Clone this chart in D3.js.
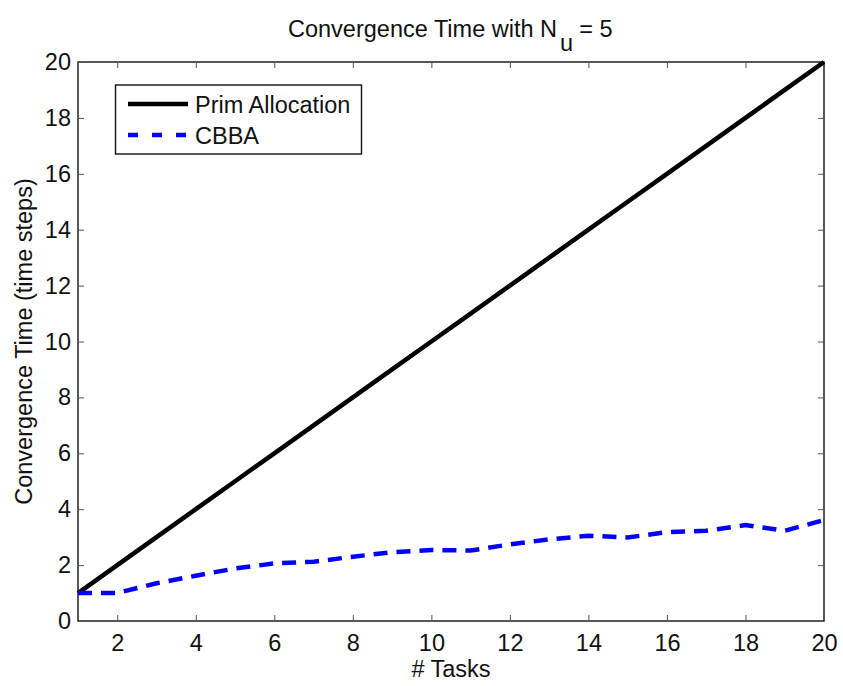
<!DOCTYPE html>
<html>
<head>
<meta charset="utf-8">
<script src="https://cdn.jsdelivr.net/npm/d3@7"></script>
<style>
  html, body { margin: 0; padding: 0; background: #fff; }
  svg text { font-family: "Liberation Sans", Arial, Helvetica, sans-serif; fill: #111; }
</style>
</head>
<body>
<svg id="chart" width="843" height="686"></svg>
<script>
// Number of tasks on the x axis
const tasks = [1, 2, 3, 4, 5, 6, 7, 8, 9, 10, 11, 12, 13, 14, 15, 16, 17, 18, 19, 20];
// Prim allocation: convergence grows one step per task
const primTime = [1, 2, 3, 4, 5, 6, 7, 8, 9, 10, 11, 12, 13, 14, 15, 16, 17, 18, 19, 20];
// CBBA convergence time (time steps)
const cbbaTime = [1.0, 1.0, 1.35, 1.62, 1.88, 2.06, 2.12, 2.30, 2.46, 2.54, 2.52, 2.74, 2.92, 3.05, 2.99, 3.18, 3.23, 3.43, 3.23, 3.61];
const xTicks = [2, 4, 6, 8, 10, 12, 14, 16, 18, 20];
const yTicks = [0, 2, 4, 6, 8, 10, 12, 14, 16, 18, 20];

const svg = d3.select("#chart");
const plot = { left: 78, right: 824, top: 62, bottom: 621 };
const fontSize = 23.5;

const x = d3.scaleLinear().domain([1, 20]).range([plot.left, plot.right]);
const y = d3.scaleLinear().domain([0, 20]).range([plot.bottom, plot.top]);

// Axis frame
svg.append("rect")
  .attr("x", plot.left).attr("y", plot.top)
  .attr("width", plot.right - plot.left).attr("height", plot.bottom - plot.top)
  .attr("fill", "none").attr("stroke", "#111").attr("stroke-width", 1.4);

const tickLen = 6;
const tickStroke = "#555";

// Bottom axis with inward ticks
const xAxis = svg.append("g").attr("transform", `translate(0,${plot.bottom})`)
  .call(d3.axisBottom(x).tickValues(xTicks).tickSize(-tickLen).tickPadding(13).tickFormat(d3.format("d")));
xAxis.select(".domain").remove();
xAxis.selectAll("line").attr("stroke", tickStroke);
xAxis.selectAll("text").attr("font-size", fontSize).attr("fill", "#111");

// Top ticks (mirrored)
const xTop = svg.append("g").attr("transform", `translate(0,${plot.top})`)
  .call(d3.axisTop(x).tickValues(xTicks).tickSize(-tickLen).tickFormat(""));
xTop.select(".domain").remove();
xTop.selectAll("line").attr("stroke", tickStroke);

// Left axis
const yAxis = svg.append("g").attr("transform", `translate(${plot.left},0)`)
  .call(d3.axisLeft(y).tickValues(yTicks).tickSize(-tickLen).tickPadding(7).tickFormat(d3.format("d")));
yAxis.select(".domain").remove();
yAxis.selectAll("line").attr("stroke", tickStroke);
yAxis.selectAll("text").attr("font-size", fontSize).attr("fill", "#111");

// Right ticks (mirrored)
const yRight = svg.append("g").attr("transform", `translate(${plot.right},0)`)
  .call(d3.axisRight(y).tickValues(yTicks).tickSize(-tickLen).tickFormat(""));
yRight.select(".domain").remove();
yRight.selectAll("line").attr("stroke", tickStroke);

// Series
const line = d3.line().x((d, i) => x(tasks[i])).y(d => y(d));

svg.append("path").datum(primTime)
  .attr("d", line).attr("fill", "none")
  .attr("stroke", "#000").attr("stroke-width", 4.5);

svg.append("path").datum(cbbaTime)
  .attr("d", line).attr("fill", "none")
  .attr("stroke", "#0000ff").attr("stroke-width", 4.5)
  .attr("stroke-dasharray", "14,9");

// Title with subscript
const title = svg.append("text")
  .attr("x", 288).attr("y", 37)
  .attr("font-size", fontSize);
title.append("tspan").text("Convergence Time with N");
title.append("tspan").attr("dx", 3).attr("dy", 14).text("u");
title.append("tspan").attr("dx", 6).attr("dy", -14).text("= 5");

// Axis labels
svg.append("text")
  .attr("x", (plot.left + plot.right) / 2).attr("y", 677).attr("text-anchor", "middle")
  .attr("font-size", fontSize).text("# Tasks");

svg.append("text")
  .attr("transform", `translate(32,${(plot.top + plot.bottom) / 2}) rotate(-90)`)
  .attr("text-anchor", "middle")
  .attr("font-size", fontSize).text("Convergence Time (time steps)");

// Legend
const legend = svg.append("g");
legend.append("rect")
  .attr("x", 115.5).attr("y", 85).attr("width", 246).attr("height", 69)
  .attr("fill", "#fff").attr("stroke", "#111").attr("stroke-width", 1.4);

const legendItems = [
  { label: "Prim Allocation", color: "#000", dash: null, yy: 104 },
  { label: "CBBA", color: "#0000ff", dash: "10,14", yy: 135 }
];
legendItems.forEach(it => {
  legend.append("line")
    .attr("x1", 128).attr("x2", 188).attr("y1", it.yy).attr("y2", it.yy)
    .attr("stroke", it.color).attr("stroke-width", 4.5)
    .attr("stroke-dasharray", it.dash);
  legend.append("text")
    .attr("x", 195).attr("y", it.yy + 8.5)
    .attr("font-size", fontSize).text(it.label);
});
</script>
</body>
</html>
